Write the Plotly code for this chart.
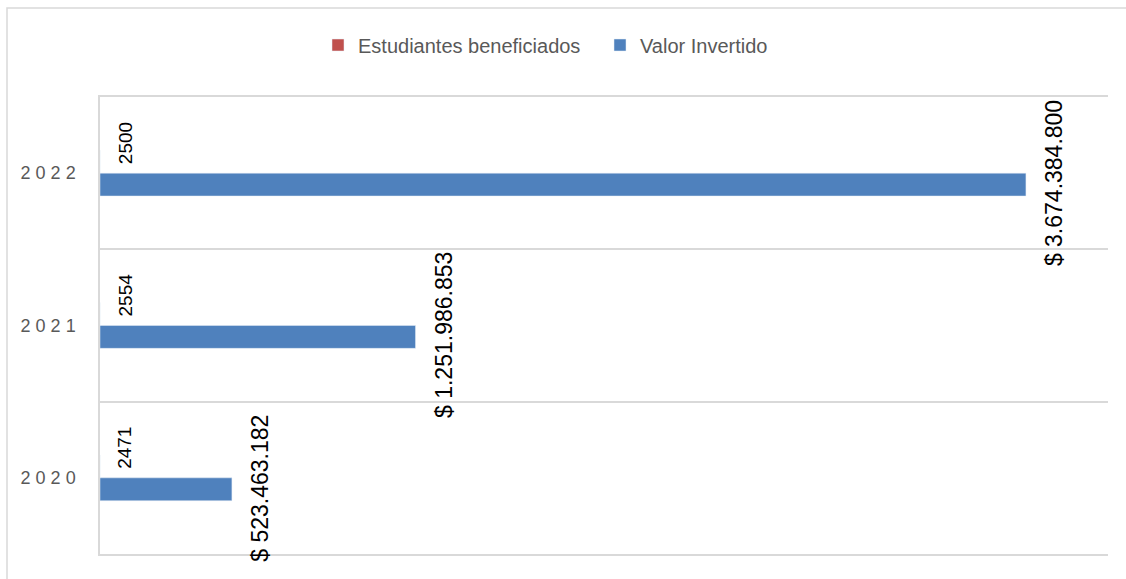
import plotly.graph_objects as go

years = ["2020", "2021", "2022"]
year_labels = ["2 0 2 0", "2 0 2 1", "2 0 2 2"]
estudiantes = [2471, 2554, 2500]
valor = [523463182, 1251986853, 3674384800]
valor_text = ["$ 523.463.182", "$ 1.251.986.853", "$ 3.674.384.800"]
estudiantes_text = ["2471", "2554", "2500"]

BLUE = "#4F81BD"
RED = "#C0504D"
GRID = "#D9D9D9"
FONT = "Liberation Sans, Arial, sans-serif"

W, H = 1126, 579
L, R, T, B = 100, 18, 97, 25
pw, ph = W - L - R, H - T - B

def px_x(px):
    return (px - L) / pw

def px_y(py):
    return 1 - (py - T) / ph

fig = go.Figure()
fig.add_trace(go.Bar(
    y=years, x=valor, orientation="h", name="Valor Invertido",
    marker=dict(color=BLUE), legendrank=2, hoverinfo="skip",
))
fig.add_trace(go.Bar(
    y=years, x=estudiantes, orientation="h", name="Estudiantes beneficiados",
    marker=dict(color=RED), legendrank=1, hoverinfo="skip",
))

annotations = []
for i, (v, t) in enumerate(zip(valor, valor_text)):
    annotations.append(dict(
        x=v, y=i, xref="x", yref="y", text=t, showarrow=False,
        textangle=-90, xanchor="center", yanchor="middle",
        xshift=28, yshift=-10,
        font=dict(family=FONT, size=23, color="#000000"),
    ))
for i, (v, t) in enumerate(zip(estudiantes, estudiantes_text)):
    annotations.append(dict(
        x=v, y=i, xref="x", yref="y", text=t, showarrow=False,
        textangle=-90, xanchor="center", yanchor="middle",
        xshift=25, yshift=30,
        font=dict(family=FONT, size=19, color="#000000"),
    ))

fig.update_layout(
    width=W, height=H,
    margin=dict(l=L, r=R, t=T, b=B),
    paper_bgcolor="white", plot_bgcolor="white",
    barmode="group", bargap=0.7, bargroupgap=0,
    font=dict(family=FONT, color="#595959"),
    showlegend=True,
    legend=dict(
        orientation="h", x=px_x(318), xanchor="left", y=px_y(45), yanchor="middle",
        entrywidth=237,
        font=dict(family=FONT, size=20, color="#595959"),
        bgcolor="rgba(0,0,0,0)",
    ),
    xaxis=dict(
        range=[0, 4.0e9], showticklabels=False, showgrid=False,
        zeroline=False, showline=True, mirror=True,
        linecolor=GRID, linewidth=1.5,
    ),
    yaxis=dict(
        type="category", categoryorder="array", categoryarray=years,
        range=[-0.5, 2.5], labelalias=dict(zip(years, year_labels)),
        tickson="boundaries", ticklabelstandoff=19,
        showgrid=True, gridcolor=GRID, gridwidth=1.5,
        showline=True, linecolor=GRID, linewidth=1.5,
        tickfont=dict(family=FONT, size=18, color="#595959"),
        zeroline=False,
    ),
    annotations=annotations,
    shapes=[dict(
        type="rect", xref="paper", yref="paper",
        x0=px_x(7), x1=px_x(1140), y0=px_y(600), y1=px_y(8),
        line=dict(color=GRID, width=1.5), fillcolor="rgba(0,0,0,0)",
        layer="below",
    )],
)

fig.write_html(
    "out.html",
    config={"displayModeBar": False},
    post_script="document.body.style.margin='0';",
)
